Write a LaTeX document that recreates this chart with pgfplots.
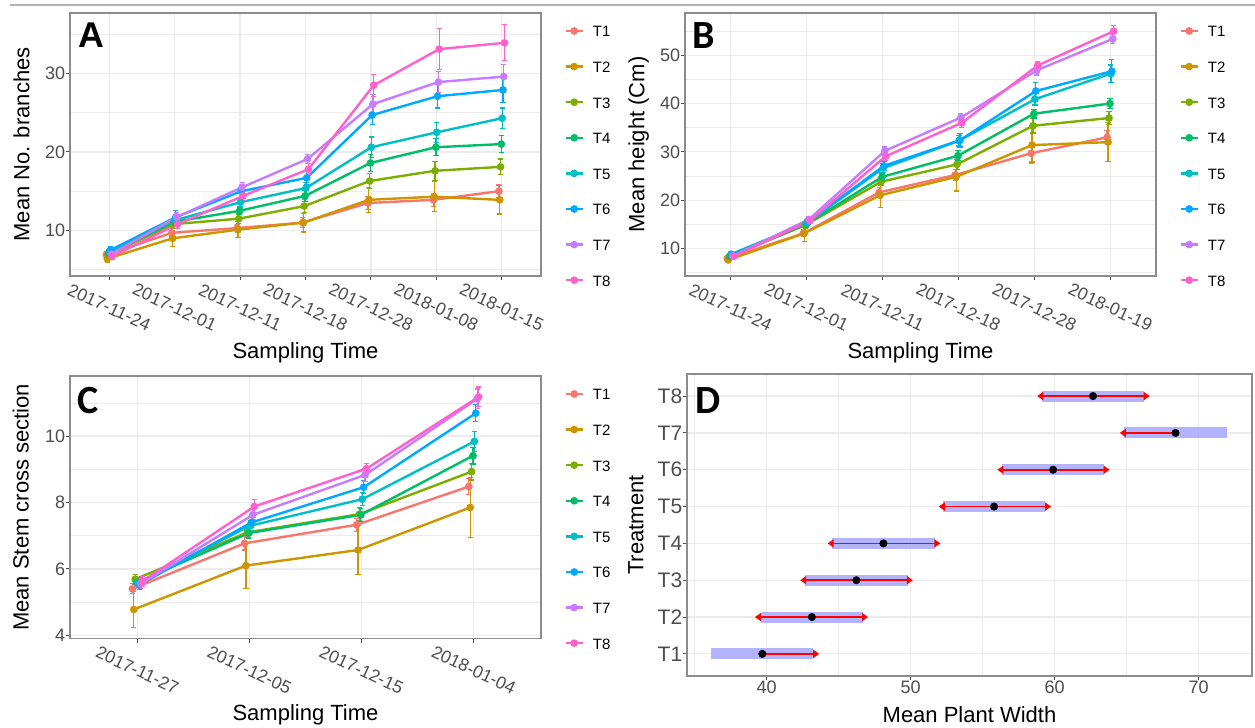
\documentclass[border=0pt]{standalone}
\usepackage{fontspec}
\setmainfont{Liberation Sans}
\newfontfamily\carlito{Carlito}
\usepackage{pgfplots}
\usepackage{pgfplotstable}
\pgfplotsset{compat=1.18}
\usetikzlibrary{arrows.meta}

\definecolor{cT1}{HTML}{F8766D}
\definecolor{cT2}{HTML}{CD9600}
\definecolor{cT3}{HTML}{7CAE00}
\definecolor{cT4}{HTML}{00BE67}
\definecolor{cT5}{HTML}{00BFC4}
\definecolor{cT6}{HTML}{00A9FF}
\definecolor{cT7}{HTML}{C77CFF}
\definecolor{cT8}{HTML}{FF61CC}
\definecolor{gridc}{HTML}{EBEBEB}
\definecolor{framec}{HTML}{8C8C8C}
\definecolor{tickc}{HTML}{4D4D4D}
\definecolor{bandc}{HTML}{B3B3FF}

% panel A: mean number of branches
\pgfplotstableread{
x T1 T1e T2 T2e T3 T3e T4 T4e T5 T5e T6 T6e T7 T7e T8 T8e
1 6.9 0.4 6.4 0.5 6.9 0.4 7.1 0.4 7.3 0.4 7.5 0.5 7.0 0.4 6.7 0.4
2 9.7 0.5 9.0 1.0 10.8 0.5 11.1 0.5 11.3 0.5 11.7 0.8 11.7 0.6 10.8 0.5
3 10.3 0.5 10.1 1.0 11.5 0.6 12.5 0.5 13.6 0.6 15.0 0.7 15.5 0.6 14.4 0.6
4 11.0 0.6 11.0 1.2 13.1 0.8 14.4 0.7 15.4 0.7 16.7 0.8 19.1 0.6 17.8 0.7
5 13.5 0.8 13.9 1.6 16.3 1.0 18.6 1.1 20.6 1.3 24.7 1.2 26.1 1.2 28.5 1.4
6 13.9 0.8 14.3 1.9 17.6 1.2 20.6 1.1 22.5 1.3 27.1 1.5 28.9 1.3 33.1 2.6
7 15.0 0.8 13.9 1.8 18.1 1.0 21.0 1.1 24.3 1.3 27.9 1.6 29.6 1.5 33.9 2.3
}\tabA

% panel B: mean height
\pgfplotstableread{
x T1 T1e T2 T2e T3 T3e T4 T4e T5 T5e T6 T6e T7 T7e T8 T8e
1 7.9 0.4 7.6 0.6 8.3 0.5 8.4 0.4 8.8 0.4 8.6 0.4 8.4 0.4 8.4 0.4
2 13.1 0.7 13.1 1.7 14.8 0.6 15.0 0.6 15.3 0.6 15.5 0.6 16.0 0.6 15.7 0.6
3 21.6 1.0 21.0 2.6 23.8 0.8 24.8 0.8 26.6 0.9 27.1 1.0 30.2 0.8 29.1 0.9
4 25.2 1.2 24.8 2.9 27.4 1.0 29.2 1.0 32.3 1.1 32.4 1.4 37.1 0.8 36.0 0.9
5 29.7 2.2 31.4 3.5 35.4 1.5 37.9 0.9 40.9 1.2 42.6 1.8 46.9 1.0 47.9 0.8
6 33.0 1.5 32.0 4.0 37.0 1.3 40.0 1.0 46.2 1.8 46.7 2.4 53.4 1.0 55.0 1.2
}\tabB

% panel C: mean stem cross section
\pgfplotstableread{
x T1 T1e T2 T2e T3 T3e T4 T4e T5 T5e T6 T6e T7 T7e T8 T8e
1 5.40 0.15 4.78 0.54 5.69 0.15 5.59 0.15 5.59 0.15 5.52 0.15 5.55 0.15 5.62 0.15
2 6.77 0.20 6.10 0.69 7.10 0.15 7.08 0.15 7.30 0.15 7.40 0.15 7.63 0.15 7.88 0.20
3 7.33 0.20 6.57 0.73 7.65 0.20 7.63 0.20 8.10 0.20 8.46 0.20 8.83 0.20 9.02 0.15
4 8.48 0.25 7.85 0.91 8.93 0.25 9.41 0.25 9.84 0.30 10.69 0.25 11.12 0.30 11.18 0.30
}\tabC

% panel D: mean plant width
\pgfplotstableread{
y dot
1 39.70
2 43.14
3 46.23
4 48.11
5 55.79
6 59.89
7 68.39
8 62.66
}\tabD
\pgfplotstableread{
y x u
2 43.14 -3.95
3 46.23 -3.90
4 48.11 -3.87
5 55.79 -3.84
6 59.89 -3.87
7 68.39 -3.87
8 62.66 -3.87
}\tabDleft
\pgfplotstableread{
y x u
1 39.70 3.95
2 43.14 3.90
3 46.23 3.92
4 48.11 3.95
5 55.79 3.96
6 59.89 3.92
8 62.66 3.94
}\tabDright

\pgfplotsset{
  ggbw/.style={
    scale only axis, anchor=south west,
    axis line style={framec, line width=0.55pt},
    tick align=outside, major tick length=2.2pt, minor tick length=0pt,
    tick style={tickc, line width=0.5pt},
    xtick pos=bottom, ytick pos=left,
    tick label style={font=\fontsize{9}{10}\selectfont, text=tickc, inner sep=0pt},
    label style={font=\fontsize{11}{13}\selectfont},
    /pgf/number format/assume math mode=true,
    major grid style={gridc, line width=0.6pt},
    minor grid style={gridc, line width=0.3pt},
    xmajorgrids, ymajorgrids,
  },
  datex/.style={
    xticklabel style={font=\fontsize{8.8}{10}\selectfont, anchor=center, rotate=-25},
    xticklabel shift=13.5pt,
  },
  ggleg/.style={
    legend style={at={(axis description cs:1.05,0.9544)}, anchor=north west,
      draw=none, fill=none, inner sep=0pt, outer sep=0pt,
      row sep=11.8pt, column sep=4.5pt, font=\fontsize{7.5}{9}\selectfont,
      nodes={inner sep=0pt, text height=6pt, text depth=0pt}},
    legend cell align=left,
    legend image code/.code={\draw[mark repeat=2, mark phase=2, ##1]
      plot coordinates {(0pt,0pt) (4.25pt,0pt) (8.5pt,0pt)};},
  },
}

% one treatment series: table, column, colour, dodge offset
\newcommand{\trt}[4]{%
  \addplot[#3, line width=1.2pt, mark=*, mark size=1.3pt,
    error bars/.cd, y dir=both, y explicit, error mark=|,
    error bar style={line width=0.6pt},
    error mark options={line width=0.6pt, mark size=1.3pt}]
    table[x expr=\thisrow{x}+#4, y=#2, y error=#2e] {#1};
  \addlegendentry{#2}
}
\newcommand{\alltrt}[1]{%
  \trt{#1}{T1}{cT1}{-0.04375}
  \trt{#1}{T2}{cT2}{-0.03125}
  \trt{#1}{T3}{cT3}{-0.01875}
  \trt{#1}{T4}{cT4}{-0.00625}
  \trt{#1}{T5}{cT5}{0.00625}
  \trt{#1}{T6}{cT6}{0.01875}
  \trt{#1}{T7}{cT7}{0.03125}
  \trt{#1}{T8}{cT8}{0.04375}
}

\begin{document}
\begin{tikzpicture}
\useasboundingbox (0,0) rectangle (627.5pt,364pt);
\draw[black!30, line width=0.75pt] (5pt,361.5pt) -- (627.5pt,361.5pt);

% A
\begin{axis}[ggbw, datex, ggleg,
  at={(35pt,226pt)}, width=235.5pt, height=131.5pt,
  xmin=0.4, xmax=7.6, ymin=4.2, ymax=37.7,
  xtick={1,...,7},
  xticklabels={2017-11-24,2017-12-01,2017-12-11,2017-12-18,2017-12-28,2018-01-08,2018-01-15},
  ytick={10,20,30}, minor ytick={5,15,25,35}, yminorgrids,
  xlabel={Sampling Time}, ylabel={Mean No. branches},
  xlabel style={at={(axis description cs:0.5,-0.2928)}, anchor=center},
  ylabel style={at={(axis description cs:-0.103,0.5)}, anchor=center},
]
\alltrt{\tabA}
\node[anchor=north west, inner sep=0pt, font=\bfseries\fontsize{17.9}{18}\selectfont]
  at (axis description cs:0.018,0.963) {A};
\end{axis}

% B
\begin{axis}[ggbw, datex, ggleg,
  at={(342.5pt,226pt)}, width=235.5pt, height=131.5pt,
  xmin=0.4, xmax=6.6, ymin=4.28, ymax=58.76,
  xtick={1,...,6},
  xticklabels={2017-11-24,2017-12-01,2017-12-11,2017-12-18,2017-12-28,2018-01-19},
  ytick={10,20,30,40,50}, minor ytick={5,15,25,35,45,55}, yminorgrids,
  xlabel={Sampling Time}, ylabel={Mean height (Cm)},
  xlabel style={at={(axis description cs:0.5,-0.2928)}, anchor=center},
  ylabel style={at={(axis description cs:-0.0985,0.5)}, anchor=center},
]
\alltrt{\tabB}
\node[anchor=north west, inner sep=0pt, font=\carlito\bfseries\fontsize{20}{20}\selectfont]
  at (axis description cs:0.016,0.967) {B};
\end{axis}

% C
\begin{axis}[ggbw, datex, ggleg,
  at={(35pt,44.65pt)}, width=235.5pt, height=131.35pt,
  xmin=0.4, xmax=4.6, ymin=3.9, ymax=11.81,
  xtick={1,...,4},
  xticklabels={2017-11-27,2017-12-05,2017-12-15,2018-01-04},
  ytick={4,6,8,10}, minor ytick={5,7,9,11}, yminorgrids,
  xlabel={Sampling Time}, ylabel={Mean Stem cross section},
  xlabel style={at={(axis description cs:0.5,-0.2904)}, anchor=center},
  ylabel style={at={(axis description cs:-0.1047,0.5)}, anchor=center},
]
\alltrt{\tabC}
\node[anchor=north west, inner sep=0pt, font=\carlito\bfseries\fontsize{20}{20}\selectfont]
  at (axis description cs:0.015,0.958) {C};
\end{axis}

% D
\begin{axis}[ggbw,
  at={(343.5pt,26pt)}, width=282.5pt, height=151pt,
  xmin=34.47, xmax=73.7, ymin=0.4, ymax=8.6,
  xtick={40,50,60,70}, minor xtick={35,45,55,65}, xminorgrids,
  ytick={1,...,8}, yticklabels={T1,T2,T3,T4,T5,T6,T7,T8},
  yticklabel style={font=\fontsize{10.5}{12}\selectfont},
  xlabel={Mean Plant Width}, ylabel={Treatment},
  xlabel style={at={(axis description cs:0.5,-0.129)}, anchor=center},
  ylabel style={at={(axis description cs:-0.0903,0.5)}, anchor=center},
]
\addplot[draw=none, mark=none, forget plot,
  error bars/.cd, x dir=both, x fixed=3.55, error mark=none,
  error bar style={draw=bandc, line width=5.5pt}]
  table[x=dot, y=y] {\tabD};
\addplot[red, line width=0.75pt, -{Triangle[length=3pt,width=4pt]},
  quiver={u=\thisrow{u}, v=0}] table[x=x, y=y] {\tabDleft};
\addplot[red, line width=0.75pt, -{Triangle[length=3pt,width=4pt]},
  quiver={u=\thisrow{u}, v=0}] table[x=x, y=y] {\tabDright};
\addplot[only marks, mark=*, mark size=1.8pt, black] table[x=dot, y=y] {\tabD};
\node[anchor=north west, inner sep=0pt, font=\carlito\bfseries\fontsize{20}{20}\selectfont]
  at (axis description cs:0.014,0.957) {D};
\end{axis}
\end{tikzpicture}
\end{document}
